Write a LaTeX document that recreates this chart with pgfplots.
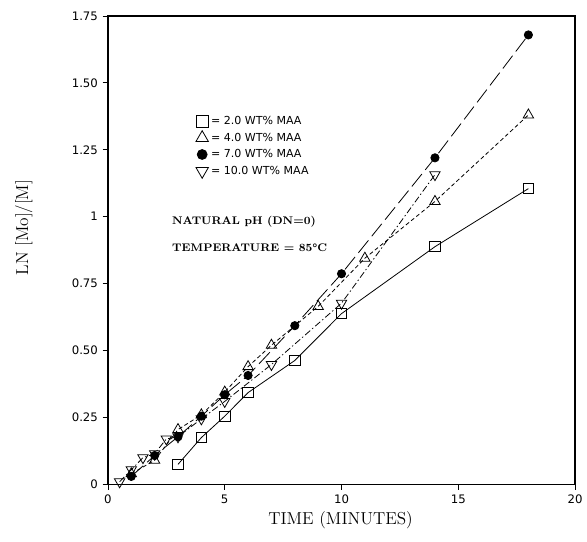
\documentclass[border=0pt]{standalone}
\usepackage{fontspec}
\usepackage{pgfplots}
\pgfplotsset{compat=1.18}
\newfontfamily\dejavu{DejaVu Sans}
\begin{document}
\begin{tikzpicture}
\begin{axis}[
 scale only axis, width=351pt, height=352pt,
 xmin=0, xmax=20, ymin=0, ymax=1.75,
 xtick={0,5,10,15,20},
 xticklabels={0,5,10,15,20},
 ytick={0,0.25,0.5,0.75,1,1.25,1.5,1.75},
 yticklabels={0,0.25,0.50,0.75,1,1.25,1.50,1.75},
 tick label style={font=\dejavu\fontsize{8.8}{10}\selectfont},
 axis line style={line width=1.3pt},
 tick style={line width=0.6pt, black},
 tick align=outside, major tick length=4pt,
 xtick pos=bottom, ytick pos=left,
 xlabel={TIME (MINUTES)}, ylabel={LN [Mo]/[M]},
 label style={font=\fontsize{13}{15}\selectfont},
 xlabel style={at={(axis description cs:0.498,-0.077)}, anchor=center},
 ylabel style={at={(axis description cs:-0.18,0.548)}, anchor=center},
 clip=false,
 legend style={at={(axis description cs:0.185,0.795)}, anchor=north west, draw=none, fill=none,
   font=\dejavu\fontsize{8.3}{9.5}\selectfont, row sep=0.8pt, inner sep=1pt},
 legend cell align=left,
 legend image code/.code={\draw[#1, every mark/.append style={scale=1.2}] plot coordinates {(0.1cm,0cm)};},
]
\addplot[black, line width=0.6pt, solid, mark=square, mark size=3.9pt, mark options={solid}] coordinates {
(3,0.075) (4,0.175) (5,0.255) (6,0.343) (8,0.463) (10,0.638) (14,0.888) (18,1.105)};
\addlegendentry{= 2.0 WT\% MAA}
\addplot[black, line width=0.6pt, dash pattern=on 3pt off 2pt, mark=triangle, mark size=4.5pt, mark options={solid}] coordinates {
(1,0.04) (2,0.09) (3,0.205) (4,0.26) (5,0.345) (6,0.44) (7,0.52) (9,0.665) (11,0.845) (14,1.057) (18,1.38)};
\addlegendentry{= 4.0 WT\% MAA}
\addplot[black, line width=0.6pt, dash pattern=on 12pt off 4pt, mark=*, mark size=3.1pt, mark options={solid, fill=black}] coordinates {
(1,0.03) (2,0.108) (3,0.178) (4,0.255) (5,0.335) (6,0.407) (8,0.593) (10,0.787) (14,1.22) (18,1.679)};
\addlegendentry{= 7.0 WT\% MAA}
\addplot[black, line width=0.6pt, dash pattern=on 5pt off 2pt on 1pt off 2pt, mark=triangle, mark size=4.5pt, mark options={solid, rotate=180}] coordinates {
(0.5,0.01) (1,0.055) (1.5,0.10) (2,0.115) (2.5,0.17) (3,0.178) (4,0.245) (5,0.31) (7,0.448) (10,0.677) (14,1.157)};
\addlegendentry{= 10.0 WT\% MAA}
\node[anchor=west, font=\bfseries\fontsize{8.3}{10}\selectfont] at (axis cs:2.55,0.98) {NATURAL pH (DN=0)};
\node[anchor=west, font=\bfseries\fontsize{8.3}{10}\selectfont] at (axis cs:2.55,0.885) {TEMPERATURE = 85°C};
\path (axis description cs:-0.231,-0.1215) rectangle (axis description cs:1.0235,1.034);
\end{axis}
\end{tikzpicture}
\end{document}
